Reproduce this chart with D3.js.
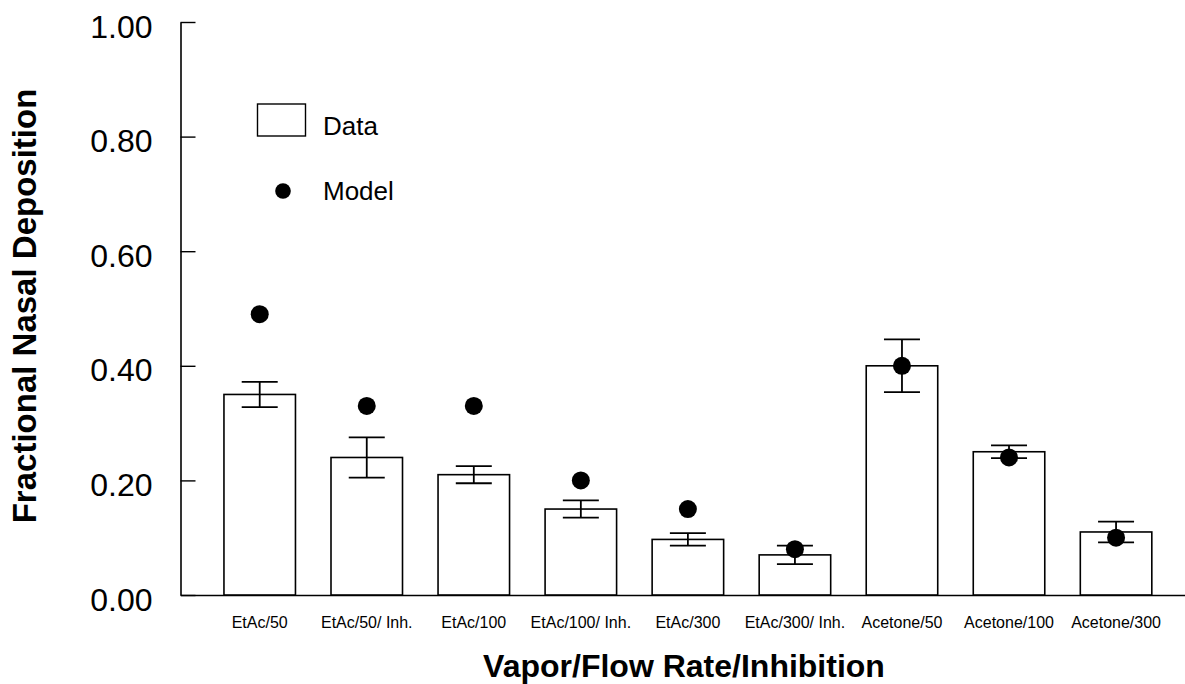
<!DOCTYPE html>
<html>
<head>
<meta charset="utf-8">
<script src="https://cdn.jsdelivr.net/npm/d3@7"></script>
<style>
  html, body { margin: 0; padding: 0; background: #fff; }
  svg { display: block; font-family: "Liberation Sans", Arial, Helvetica, sans-serif; }
</style>
</head>
<body>
<svg id="chart" width="1185" height="684"></svg>
<script>
const categories = ["EtAc/50", "EtAc/50/ Inh.", "EtAc/100", "EtAc/100/ Inh.", "EtAc/300", "EtAc/300/ Inh.", "Acetone/50", "Acetone/100", "Acetone/300"];
const dataValues = [0.35, 0.24, 0.21, 0.15, 0.097, 0.07, 0.40, 0.25, 0.11];
const dataErrors = [0.022, 0.035, 0.015, 0.015, 0.011, 0.016, 0.046, 0.011, 0.018];
const modelValues = [0.49, 0.33, 0.33, 0.20, 0.15, 0.08, 0.40, 0.24, 0.10];
const yTicks = [0, 0.2, 0.4, 0.6, 0.8, 1.0];
const legendLabels = ["Data", "Model"];
const xTitle = "Vapor/Flow Rate/Inhibition";
const yTitle = "Fractional Nasal Deposition";

(function () {
const svg = d3.select("#chart");
const mLeft = 180.5, mRight = 1185, mTop = 22, mBottom = 595;

const x = d3.scaleBand().domain(categories).range([mLeft, mRight])
  .paddingInner(0.332).paddingOuter(0.358).align(0.567);
const y = d3.scaleLinear().domain([0, 1]).range([mBottom, mTop]);

// Y axis
const yAxis = svg.append("g").attr("transform", `translate(${mLeft},0)`)
  .call(d3.axisLeft(y).tickValues(yTicks).tickFormat(d3.format(".2f"))
    .tickSizeInner(-15).tickSizeOuter(0).tickPadding(28));
yAxis.select(".domain").attr("stroke", "#000").attr("stroke-width", 1.6);
yAxis.selectAll(".tick line").attr("stroke", "#000").attr("stroke-width", 1.4);
yAxis.selectAll(".tick text").attr("font-size", 32).attr("fill", "#000")
  .attr("font-family", "Liberation Sans, Arial, sans-serif").attr("dy", "0.47em");

// X axis
const xAxis = svg.append("g").attr("transform", `translate(0,${mBottom})`)
  .call(d3.axisBottom(x).tickSize(0).tickSizeOuter(0).tickPadding(22));
xAxis.select(".domain").attr("stroke", "#000").attr("stroke-width", 1.6);
xAxis.selectAll(".tick text").attr("font-size", 16).attr("fill", "#000")
  .attr("font-family", "Liberation Sans, Arial, sans-serif");

// Bars
const idx = d3.range(categories.length);
svg.append("g").selectAll("rect").data(idx).join("rect")
  .attr("x", i => x(categories[i]))
  .attr("y", i => y(dataValues[i]))
  .attr("width", x.bandwidth())
  .attr("height", i => y(0) - y(dataValues[i]))
  .attr("fill", "#fff").attr("stroke", "#000").attr("stroke-width", 1.6);

// Error bars
const capHalf = 18;
const eb = svg.append("g").attr("stroke", "#000").attr("stroke-width", 1.8);
idx.forEach(i => {
  const cx = x(categories[i]) + x.bandwidth() / 2;
  const hi = y(dataValues[i] + dataErrors[i]);
  const lo = y(dataValues[i] - dataErrors[i]);
  eb.append("line").attr("x1", cx).attr("x2", cx).attr("y1", hi).attr("y2", lo);
  eb.append("line").attr("x1", cx - capHalf).attr("x2", cx + capHalf).attr("y1", hi).attr("y2", hi);
  eb.append("line").attr("x1", cx - capHalf).attr("x2", cx + capHalf).attr("y1", lo).attr("y2", lo);
});

// Model points
svg.append("g").selectAll("circle").data(idx).join("circle")
  .attr("cx", i => x(categories[i]) + x.bandwidth() / 2)
  .attr("cy", i => y(modelValues[i]))
  .attr("r", 9)
  .attr("fill", "#000");

// Legend
const lg = svg.append("g");
lg.append("rect").attr("x", 257.5).attr("y", 104).attr("width", 48).attr("height", 32)
  .attr("fill", "#fff").attr("stroke", "#000").attr("stroke-width", 1.4);
lg.append("text").attr("x", 323).attr("y", 135).attr("font-size", 26).text(legendLabels[0]);
lg.append("circle").attr("cx", 283).attr("cy", 191).attr("r", 7.8).attr("fill", "#000");
lg.append("text").attr("x", 323).attr("y", 200).attr("font-size", 26).text(legendLabels[1]);

// Axis titles
svg.append("text").attr("x", 684).attr("y", 677).attr("text-anchor", "middle")
  .attr("font-size", 32).attr("font-weight", "bold").text(xTitle);
svg.append("text").attr("transform", "translate(35.5,306) rotate(-90)")
  .attr("text-anchor", "middle").attr("font-size", 33).attr("font-weight", "bold").text(yTitle);
})();
</script>
</body>
</html>
